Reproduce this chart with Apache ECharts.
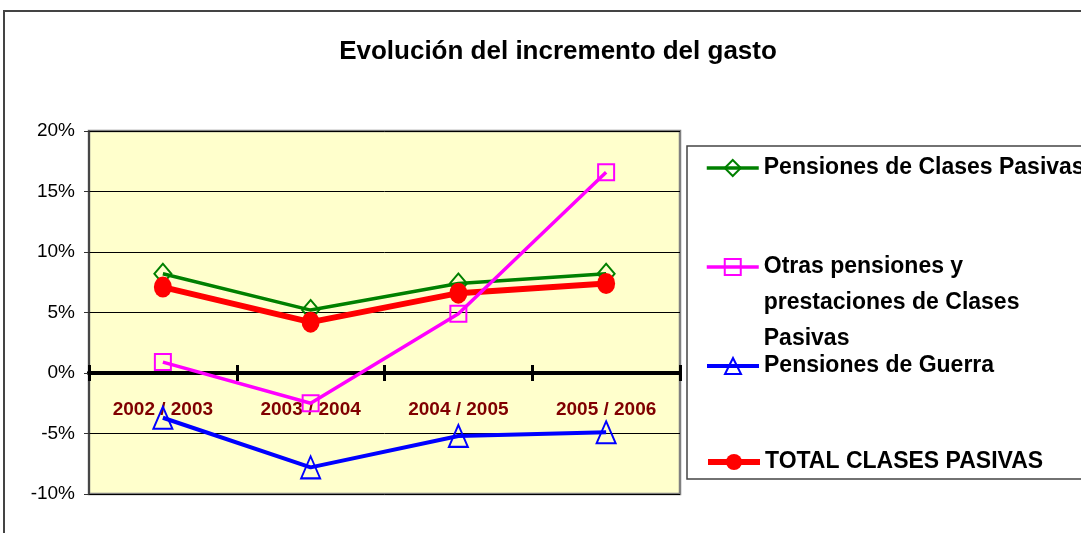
<!DOCTYPE html>
<html>
<head>
<meta charset="utf-8">
<script src="https://cdn.jsdelivr.net/npm/echarts@6/dist/echarts.min.js"></script>
<style>
  html, body { margin: 0; padding: 0; background: #fff; }
  #chart { width: 1081px; height: 533px; }
</style>
</head>
<body>
<div id="chart"></div>
<script>
// datos del gráfico (%)
var categorias = ['2002 / 2003', '2003 / 2004', '2004 / 2005', '2005 / 2006'];
var clasesPasivas = [8.2, 5.2, 7.4, 8.2];
var otrasPensiones = [0.9, -2.5, 4.9, 16.6];
var pensionesGuerra = [-3.7, -7.8, -5.2, -4.9];
var totalClases = [7.1, 4.2, 6.6, 7.4];
var yTicks = { min: -10, max: 20, step: 5 };

var FONT = '"Liberation Sans", Arial, sans-serif';

var nombres = ['Pensiones de Clases Pasivas',
  'Otras pensiones y\nprestaciones de Clases\nPasivas',
  'Pensiones de Guerra',
  'TOTAL CLASES PASIVAS'];
var colores = ['#008000', '#FF00FF', '#0000FF', '#FF0000'];
var grosor = [3.5, 3.5, 4, 6];

var myChart = echarts.init(document.getElementById('chart'));

// una leyenda por serie para colocarlas como en el original
function leyenda(i, top) {
  return {
    data: [nombres[i]],
    orient: 'vertical',
    left: 705,
    top: top,
    padding: 0,
    itemWidth: 52,
    itemHeight: 20,
    selectedMode: false,
    lineStyle: { width: grosor[i], color: colores[i] },
    formatter: function (name) {
      // la segunda tiene tres líneas que empiezan a la altura del símbolo
      return i === 1 ? '\n\n' + name : name;
    },
    textStyle: {
      fontFamily: FONT, fontWeight: 'bold', fontSize: 23, color: '#000', lineHeight: 36
    }
  };
}

// eje x: uno para las etiquetas y dos en el cero para las marcas arriba y abajo
function ejeCero(pos) {
  return {
    type: 'category',
    data: categorias,
    position: pos,
    axisLine: { onZero: true, onZeroAxisIndex: 0, lineStyle: { color: '#000', width: 4 } },
    axisTick: { show: true, interval: 0, length: 8, lineStyle: { color: '#000', width: 3 } },
    axisLabel: { show: false },
    splitLine: { show: false }
  };
}

myChart.setOption({
  animation: false,
  title: {
    text: 'Evolución del incremento del gasto',
    left: 553,
    top: 34,
    textAlign: 'center',
    textStyle: { fontFamily: FONT, fontWeight: 'bold', fontSize: 26, color: '#000' }
  },
  graphic: [
    { type: 'rect', shape: { x: 4, y: 11, width: 1200, height: 700 },
      style: { fill: 'none', stroke: '#444', lineWidth: 2 }, silent: true },
    { type: 'rect', shape: { x: 687, y: 146, width: 500, height: 333 },
      style: { fill: 'none', stroke: '#444', lineWidth: 1.5 }, silent: true }
  ],
  legend: [
    leyenda(0, 150),
    leyenda(1, 177),
    leyenda(2, 348),
    leyenda(3, 444)
  ],
  grid: {
    left: 89, top: 131, right: 401, bottom: 39,
    show: true,
    backgroundColor: '#FFFFCC',
    borderColor: '#808080',
    borderWidth: 2.5
  },
  xAxis: [
    {
      type: 'category',
      data: categorias,
      position: 'bottom',
      axisLine: { show: false, onZero: false },
      axisTick: { show: false },
      axisLabel: {
        inside: true,
        interval: 0,
        margin: 75,
        fontFamily: FONT, fontWeight: 'bold', fontSize: 19, color: '#800000'
      },
      splitLine: { show: false }
    },
    ejeCero('bottom'),
    ejeCero('top')
  ],
  yAxis: {
    type: 'value',
    min: yTicks.min,
    max: yTicks.max,
    interval: yTicks.step,
    axisLine: { show: true, lineStyle: { color: '#333', width: 1.5 } },
    axisTick: { show: true, length: 5, lineStyle: { color: '#333' } },
    axisLabel: {
      formatter: '{value}%',
      margin: 14,
      fontFamily: FONT, fontSize: 19, color: '#000'
    },
    splitLine: { show: true, lineStyle: { color: '#000', width: 1 } }
  },
  series: [
    {
      name: nombres[0],
      type: 'line',
      data: clasesPasivas,
      symbol: 'diamond',
      symbolSize: [17, 20],
      lineStyle: { color: colores[0], width: grosor[0] },
      itemStyle: { color: 'transparent', borderColor: colores[0], borderWidth: 2 },
      z: 2
    },
    {
      name: nombres[3],
      type: 'line',
      data: totalClases,
      symbol: 'circle',
      symbolSize: [18, 21],
      lineStyle: { color: colores[3], width: grosor[3] },
      itemStyle: { color: colores[3] },
      z: 3
    },
    {
      name: nombres[1],
      type: 'line',
      data: otrasPensiones,
      symbol: 'rect',
      symbolSize: 16,
      lineStyle: { color: colores[1], width: grosor[1] },
      itemStyle: { color: 'transparent', borderColor: colores[1], borderWidth: 2 },
      z: 4
    },
    {
      name: nombres[2],
      type: 'line',
      data: pensionesGuerra,
      symbol: 'triangle',
      symbolSize: [19, 22],
      lineStyle: { color: colores[2], width: grosor[2] },
      itemStyle: { color: 'transparent', borderColor: colores[2], borderWidth: 2 },
      z: 4
    }
  ]
});
</script>
</body>
</html>
